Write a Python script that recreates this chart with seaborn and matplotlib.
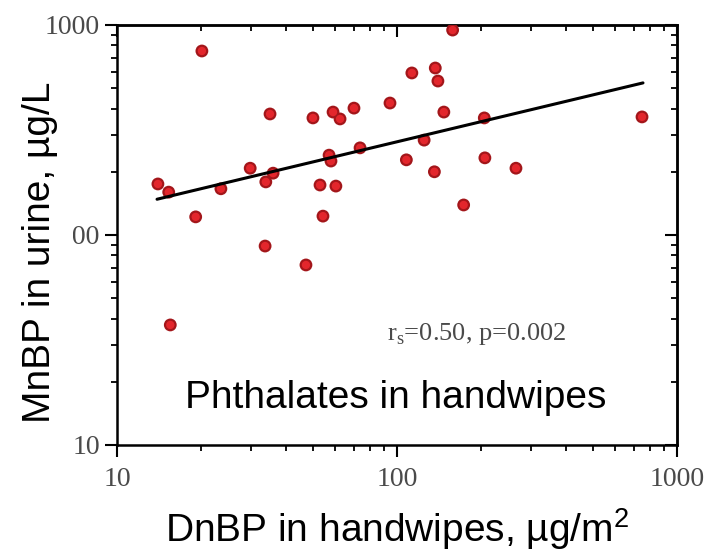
import matplotlib
matplotlib.use("Agg")
import matplotlib.pyplot as plt
import matplotlib.ticker as mticker
import seaborn as sns

# values (log-log)
dnbp_handwipe = [14.0, 15.3, 15.5, 19.1, 20.1, 23.5, 29.9, 33.8, 34.0, 35.2,
                 36.1, 47.3, 50.1, 53.1, 54.4, 57.2, 58.1, 59.1, 60.5, 62.6,
                 70.2, 73.8, 94.4, 108, 113, 125, 136, 137, 140, 147,
                 158, 173, 205, 206, 266, 750]
mnbp_urine = [175, 160, 37.3, 122, 752, 166, 208, 88.6, 179, 377,
              197, 72, 361, 173, 123, 240, 225, 385, 171, 357,
              402, 260, 425, 228, 591, 283, 200, 624, 541, 385,
              946, 139, 361, 233, 208, 365]

# regression line ends
fit_x = [13.9, 756]
fit_y = [148, 530]

tick_values = [10, 100, 1000]
tick_labels = ["10", "100", "1000"]

sns.set_style("ticks")
plt.rcParams["font.family"] = ["Liberation Sans", "DejaVu Sans"]
plt.rcParams["mathtext.fontset"] = "custom"
plt.rcParams["mathtext.rm"] = "Liberation Serif"
plt.rcParams["mathtext.sf"] = "Liberation Sans"

fig = plt.figure(figsize=(7.08, 5.52), dpi=100)
ax = fig.add_axes([117 / 708, 107 / 552, 560 / 708, 420 / 552])

sns.scatterplot(x=dnbp_handwipe, y=mnbp_urine, ax=ax, s=85, color="#a3161a",
                edgecolor="none", zorder=3)
sns.scatterplot(x=dnbp_handwipe, y=mnbp_urine, ax=ax, s=36, color="#e3262c",
                edgecolor="none", zorder=4)
sns.lineplot(x=fit_x, y=fit_y, ax=ax, color="black", lw=2.2, zorder=5)

ax.set_xscale("log")
ax.set_yscale("log")
ax.set_xlim(10, 1000)
ax.set_ylim(10, 1000)
ax.set_xticks(tick_values)
ax.set_xticklabels(tick_labels)
ax.set_yticks(tick_values)
ax.set_yticklabels(tick_labels)
ax.xaxis.set_minor_locator(mticker.LogLocator(base=10, subs=range(2, 10)))
ax.yaxis.set_minor_locator(mticker.LogLocator(base=10, subs=range(2, 10)))
ax.xaxis.set_minor_formatter(mticker.NullFormatter())
ax.yaxis.set_minor_formatter(mticker.NullFormatter())

for sp in ax.spines.values():
    sp.set_visible(True)
    sp.set_linewidth(1.8)
    sp.set_color("black")

ax.tick_params(which="both", bottom=True, left=True, top=False, right=False)
ax.tick_params(which="major", direction="out", length=8.6, width=1.5,
               color="black", labelsize=20, labelcolor="#4a4a4a",
               labelfontfamily="Liberation Serif")
ax.tick_params(which="minor", direction="out", length=4.3, width=1.3, color="black")
ax.tick_params(axis="x", which="major", pad=7)
ax.tick_params(axis="y", which="major", pad=3.6)

# inward ticks on top and right
top = ax.secondary_xaxis("top")
top.set_xticks(tick_values)
top.xaxis.set_minor_locator(mticker.LogLocator(base=10, subs=range(2, 10)))
top.xaxis.set_minor_formatter(mticker.NullFormatter())
top.tick_params(which="both", top=True, bottom=False, labeltop=False, color="black")
top.tick_params(which="major", direction="in", length=8.6, width=1.5)
top.tick_params(which="minor", direction="in", length=4.3, width=1.3)
top.spines["top"].set_linewidth(1.8)

right = ax.secondary_yaxis("right")
right.set_yticks(tick_values)
right.yaxis.set_minor_locator(mticker.LogLocator(base=10, subs=range(2, 10)))
right.yaxis.set_minor_formatter(mticker.NullFormatter())
right.tick_params(which="both", right=True, left=False, labelright=False, color="black")
right.tick_params(which="major", direction="in", length=8.6, width=1.5)
right.tick_params(which="minor", direction="in", length=4.3, width=1.3)
right.spines["right"].set_linewidth(1.8)

ax.text(0.482, 0.25, r"r$_\mathrm{s}$=0.50, p=0.002", transform=ax.transAxes,
        family="Liberation Serif", fontsize=19, color="#4a4a4a", va="baseline")
ax.text(0.498, 0.088, "Phthalates in handwipes", transform=ax.transAxes,
        ha="center", va="baseline", fontsize=28, color="black")

fig.text(397.5 / 708, 10 / 552, r"DnBP in handwipes, µg/m$^\mathsf{2}$",
         ha="center", va="baseline", fontsize=28, color="black")
fig.text(50 / 708, 300 / 552, "MnBP in urine, µg/L", rotation=90,
         rotation_mode="anchor", ha="center", va="baseline", fontsize=28,
         color="black", zorder=10,
         bbox=dict(boxstyle="square,pad=0.38", fc="white", ec="none"))

fig.savefig("out.png", dpi=100)
